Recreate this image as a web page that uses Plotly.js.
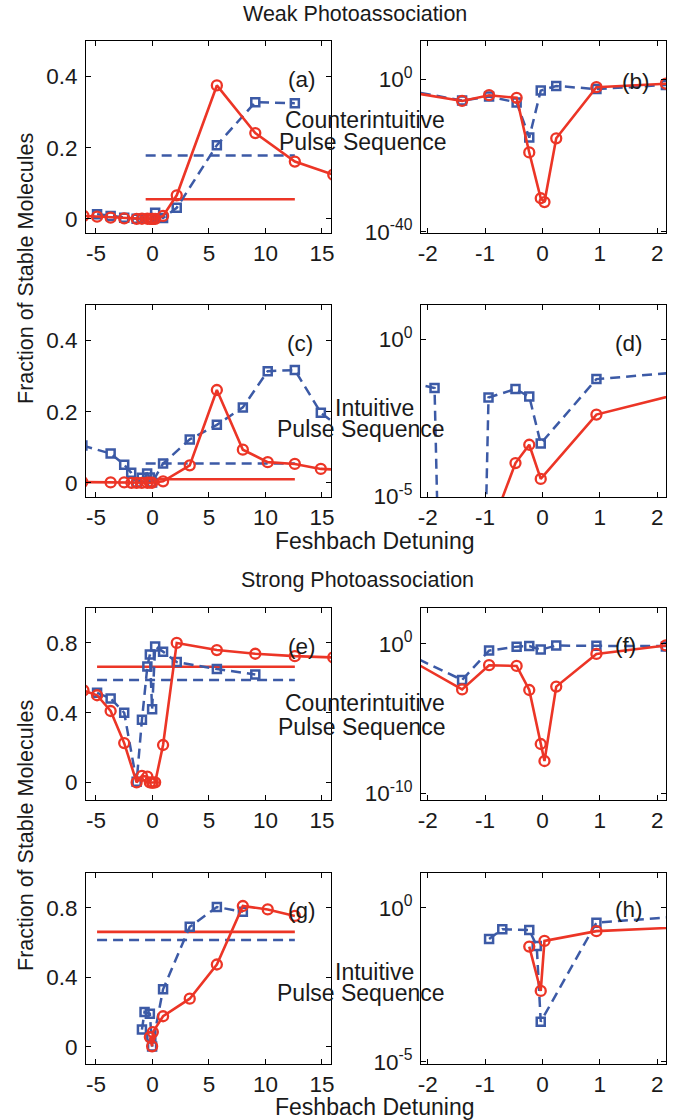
<!DOCTYPE html>
<html>
<head>
<meta charset="utf-8">
<script src="https://cdn.plot.ly/plotly-3.0.1.min.js"></script>
<style>html,body{margin:0;padding:0;background:#fff;}#chart{width:687px;height:1120px;}</style>
</head>
<body>
<div id="chart"></div>
<script>
// ---------- DATA ----------
// Row 1: Weak photoassociation, counterintuitive pulse sequence (panels a, b)
const weakCI_red_x  = [-6.1, -4.9, -3.7, -2.5, -1.4, -0.93, -0.45, -0.23, -0.03, 0.035, 0.24, 0.94, 2.15, 5.7, 9.1, 12.6, 16.0];
const weakCI_red_y  = [0.008, 0.006, 0.003, 0.0011, 2.0e-6, 6.3e-5, 1.3e-5, 6.3e-20, 6.3e-32, 6.3e-33, 3.2e-16, 0.008, 0.066, 0.375, 0.241, 0.161, 0.124];
const weakCI_blue_x = [-4.9, -3.7, -2.5, -1.4, -0.93, -0.45, -0.23, -0.03, 0.24, 0.94, 2.15, 5.7, 9.1, 12.6];
const weakCI_blue_y = [0.013, 0.008, 0.003, 2.5e-6, 2.8e-5, 8.0e-7, 5.0e-16, 1.0e-3, 0.017, 0.0025, 0.031, 0.207, 0.328, 0.325];
const weakCI_avg_red = 0.055, weakCI_avg_blue = 0.178;
const weakCI_avg_x = [-0.6, 12.6];

// Row 2: Weak photoassociation, intuitive pulse sequence (panels c, d)
const weakI_red_x  = [-6.2, -3.7, -2.5, -1.86, -1.4, -0.94, -0.47, -0.23, -0.03, 0.94, 3.3, 5.7, 8.0, 10.2, 12.6, 14.9, 17.2];
const weakI_red_y  = [0.002, 0.001, 0.001, 1e-9, 1e-10, 6e-7, 1.15e-4, 4.4e-4, 3.6e-5, 4.0e-3, 0.049, 0.261, 0.093, 0.058, 0.053, 0.039, 0.036];
const weakI_blue_x = [-6.2, -3.7, -2.5, -1.88, -1.4, -0.94, -0.47, -0.23, -0.03, 0.94, 3.3, 5.7, 8.0, 10.2, 12.6, 14.9, 17.2];
const weakI_blue_y = [0.105, 0.082, 0.051, 0.028, 1e-40, 0.014, 0.026, 0.015, 4.8e-4, 0.054, 0.122, 0.163, 0.212, 0.314, 0.317, 0.197, 0.141];
const weakI_avg_red = 0.010, weakI_avg_blue = 0.054;
const weakI_avg_x = [-0.6, 12.6];

// Row 3: Strong photoassociation, counterintuitive pulse sequence (panels e, f)
const strongCI_red_x  = [-6.1, -4.9, -3.7, -2.5, -1.4, -0.93, -0.45, -0.23, -0.03, 0.035, 0.24, 0.94, 2.15, 5.7, 9.1, 12.6, 16.0];
const strongCI_red_y  = [0.528, 0.50, 0.41, 0.226, 9.0e-4, 0.038, 0.034, 8.3e-4, 2.0e-7, 1.45e-8, 1.4e-3, 0.215, 0.80, 0.759, 0.738, 0.724, 0.717];
const strongCI_blue_x = [-4.9, -3.7, -2.5, -1.4, -0.93, -0.45, -0.23, -0.03, 0.24, 0.94, 2.15, 5.7, 9.1];
const strongCI_blue_y = [0.514, 0.482, 0.40, 0.0039, 0.36, 0.665, 0.733, 0.42, 0.78, 0.75, 0.69, 0.65, 0.619];
const strongCI_avg_red = 0.663, strongCI_avg_blue = 0.588;
const strongCI_avg_x = [-4.9, 12.6];

// Row 4: Strong photoassociation, intuitive pulse sequence (panels g, h)
const strongI_red_x  = [-0.23, -0.03, 0.035, 0.94, 3.3, 5.7, 8.0, 10.2, 12.6];
const strongI_red_y  = [0.055, 0.002, 0.084, 0.175, 0.276, 0.473, 0.81, 0.79, 0.753];
const strongI_blue_x = [-0.93, -0.70, -0.23, -0.10, -0.03, 0.94, 3.3, 5.7, 8.0];
const strongI_blue_y = [0.098, 0.20, 0.19, 0.058, 2.0e-4, 0.33, 0.69, 0.804, 0.777];
const strongI_avg_red = 0.661, strongI_avg_blue = 0.614;
const strongI_avg_x = [-4.9, 12.6];

// Tick labels
const xTicksWide = [-5, 0, 5, 10, 15];
const xTickTextWide = ['-5', '0', '5', '10', '15'];
const xTicksNarrow = [-2, -1, 0, 1, 2];
const xTickTextNarrow = ['-2', '-1', '0', '1', '2'];
const yTicksWeak = [0, 0.2, 0.4];
const yTickTextWeak = ['0', '0.2', '0.4'];
const yTicksStrong = [0, 0.4, 0.8];
const yTickTextStrong = ['0', '0.4', '0.8'];
const logTicksB = [1e-40, 1];   const logTextB = ['10<sup>-40</sup>', '10<sup>0</sup>'];
const logTicksD = [1e-5, 1];    const logTextD = ['10<sup>-5</sup>', '10<sup>0</sup>'];
const logTicksF = [1e-10, 1];   const logTextF = ['10<sup>-10</sup>', '10<sup>0</sup>'];
const logTicksH = [1e-5, 1];    const logTextH = ['10<sup>-5</sup>', '10<sup>0</sup>'];

const panelLabels = ['(a)', '(b)', '(c)', '(d)', '(e)', '(f)', '(g)', '(h)'];

// ---------- STYLE ----------
const RED = '#ec3526';
const BLUE = '#3c5aa6';
const FONT = 'Liberation Sans, Arial, Helvetica, sans-serif';
const TXT = '#1a1a1a';
const W = 687, H = 1120;

const colL = [86 / W, 331 / W];
const colR = [421 / W, 666 / W];
function rowDom(top, bottom) { return [1 - bottom / H, 1 - top / H]; }
const rows = [rowDom(41, 233), rowDom(305, 497), rowDom(608, 800), rowDom(873, 1064)];

const common = {
  showline: true, linecolor: '#000', linewidth: 1, mirror: 'allticks',
  ticks: 'inside', ticklen: 5, tickcolor: '#000', tickwidth: 1,
  showgrid: false, zeroline: false, fixedrange: true,
  tickfont: {family: FONT, size: 22.5, color: TXT}
};

const layout = {
  width: W, height: H,
  margin: {l: 0, r: 0, t: 0, b: 0},
  paper_bgcolor: '#fff', plot_bgcolor: '#fff',
  showlegend: false,
  annotations: []
};

const traces = [];

function addPanel(idx, col, row, isLog, yTicks, yText, yRange, data) {
  const n = idx + 1;
  const xa = 'xaxis' + (n === 1 ? '' : n);
  const ya = 'yaxis' + (n === 1 ? '' : n);
  const xr = 'x' + (n === 1 ? '' : n);
  const yr = 'y' + (n === 1 ? '' : n);
  const wide = col === 0;
  layout[xa] = Object.assign({}, common, {
    domain: wide ? colL : colR, anchor: yr,
    range: wide ? [-5.88, 15.8] : [-2.116, 2.152],
    tickmode: 'array',
    tickvals: wide ? xTicksWide : xTicksNarrow,
    ticktext: wide ? xTickTextWide : xTickTextNarrow,
    ticklabelstandoff: 0
  });
  layout[ya] = Object.assign({}, common, {
    domain: rows[row], anchor: xr,
    type: isLog ? 'log' : 'linear',
    range: yRange,
    tickmode: 'array', tickvals: yTicks, ticktext: yText,
    ticklabelstandoff: 3
  });
  if (!isLog && data.avgX) {
    traces.push({x: data.avgX, y: [data.avgBlue, data.avgBlue], xaxis: xr, yaxis: yr,
      mode: 'lines', line: {color: BLUE, width: 2.5, dash: '10px,6px'}, hoverinfo: 'skip'});
    traces.push({x: data.avgX, y: [data.avgRed, data.avgRed], xaxis: xr, yaxis: yr,
      mode: 'lines', line: {color: RED, width: 2.6}, hoverinfo: 'skip'});
  }
  traces.push({x: data.bx, y: data.by, xaxis: xr, yaxis: yr, mode: 'lines+markers',
    line: {color: BLUE, width: 2.5, dash: '10px,6px'},
    marker: {symbol: 'square-open', size: 8, color: BLUE, line: {width: 2.5, color: BLUE}}});
  traces.push({x: data.rx, y: data.ry, xaxis: xr, yaxis: yr, mode: 'lines+markers',
    line: {color: RED, width: 2.6},
    marker: {symbol: 'circle-open', size: 10, color: RED, line: {width: 2.3, color: RED}}});
}

const row1 = {rx: weakCI_red_x, ry: weakCI_red_y, bx: weakCI_blue_x, by: weakCI_blue_y,
  avgX: weakCI_avg_x, avgRed: weakCI_avg_red, avgBlue: weakCI_avg_blue};
const row2 = {rx: weakI_red_x, ry: weakI_red_y, bx: weakI_blue_x, by: weakI_blue_y,
  avgX: weakI_avg_x, avgRed: weakI_avg_red, avgBlue: weakI_avg_blue};
const row3 = {rx: strongCI_red_x, ry: strongCI_red_y, bx: strongCI_blue_x, by: strongCI_blue_y,
  avgX: strongCI_avg_x, avgRed: strongCI_avg_red, avgBlue: strongCI_avg_blue};
const row4 = {rx: strongI_red_x, ry: strongI_red_y, bx: strongI_blue_x, by: strongI_blue_y,
  avgX: strongI_avg_x, avgRed: strongI_avg_red, avgBlue: strongI_avg_blue};

addPanel(0, 0, 0, false, yTicksWeak, yTickTextWeak, [-0.04, 0.5], row1);
addPanel(1, 1, 0, true, logTicksB, logTextB, [-40.3, 10], row1);
addPanel(2, 0, 1, false, yTicksWeak, yTickTextWeak, [-0.04, 0.5], row2);
addPanel(3, 1, 1, true, logTicksD, logTextD, [-5.02, 1.09], row2);
addPanel(4, 0, 2, false, yTicksStrong, yTickTextStrong, [-0.1, 1.0], row3);
addPanel(5, 1, 2, true, logTicksF, logTextF, [-10.45, 2.41], row3);
addPanel(6, 0, 3, false, yTicksStrong, yTickTextStrong, [-0.1, 1.0], row4);
addPanel(7, 1, 3, true, logTicksH, logTextH, [-5.07, 1.13], row4);

// ---------- TEXT ----------
function txt(text, px, py, size, extra) {
  layout.annotations.push(Object.assign({
    text: text, xref: 'paper', yref: 'paper', x: px / W, y: 1 - py / H,
    xanchor: 'center', yanchor: 'middle', showarrow: false,
    font: {family: FONT, size: size, color: TXT}
  }, extra || {}));
}
const labelPos = [[301.7, 80], [636, 81.7], [300, 343.3], [629.3, 343.3],
                  [301.7, 646.7], [625, 645], [301.7, 910], [629.3, 909.3]];
panelLabels.forEach((t, i) => txt(t, labelPos[i][0], labelPos[i][1], 22.5));

txt('Weak Photoassociation', 355, 14, 21.5);
txt('Strong Photoassociation', 357, 580, 21.5);
txt('Counterintuitive', 365, 119.5, 23);
txt('Pulse Sequence', 362.5, 142, 23);
txt('Intuitive', 374, 408, 23);
txt('Pulse Sequence', 360.5, 429, 23);
txt('Counterintuitive', 365, 703, 23);
txt('Pulse Sequence', 362, 726.5, 23);
txt('Intuitive', 374, 971.5, 23);
txt('Pulse Sequence', 360.5, 993, 23);
txt('Feshbach Detuning', 374.5, 541, 23);
txt('Feshbach Detuning', 374.5, 1107, 23);
txt('Fraction of Stable Molecules', 26, 269, 21.5, {textangle: -90});
txt('Fraction of Stable Molecules', 26, 836, 21.5, {textangle: -90});

Plotly.newPlot('chart', traces, layout, {staticPlot: true, displayModeBar: false});
</script>
</body>
</html>
